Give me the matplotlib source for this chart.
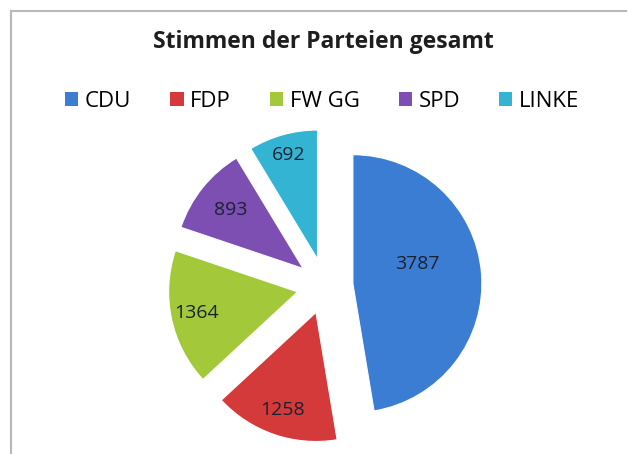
import numpy as np
import matplotlib
matplotlib.use("Agg")
import matplotlib.pyplot as plt
from matplotlib.patches import Patch
from matplotlib.lines import Line2D

# Daten
parteien = ["CDU", "FDP", "FW GG", "SPD", "LINKE"]
stimmen = [3787, 1258, 1364, 893, 692]
farben = ["#3c7dd4", "#d43a3a", "#a3c93a", "#7d4fb2", "#33b4d2"]
titel = "Stimmen der Parteien gesamt"

W, H = 628, 454
fig = plt.figure(figsize=(W / 100, H / 100), dpi=100)
fig.patch.set_facecolor("white")

# Achse ueber die ganze Figur, Kreis mit Radius 1 = 129 px, Mitte bei (325, 286)
scale = 129.0
cx, cy = 325, 286
ax = fig.add_axes([0, 0, 1, 1])

explode = [0.217] * len(stimmen)
wedges, _ = ax.pie(stimmen, colors=farben, startangle=90, counterclock=False,
                   explode=explode, radius=1.0,
                   wedgeprops=dict(linewidth=0.8, edgecolor="#ffffff"))
ax.set_xlim(-cx / scale, (W - cx) / scale)
ax.set_ylim(-(H - cy) / scale, cy / scale)
ax.axis("off")

# Werte in die Segmente schreiben
label_dist = [0.52, 0.8, 0.8, 0.72, 0.84]
label_shift = [12, 0, 0, 0, 0]   # Winkelversatz in Grad
for w, val, d, s in zip(wedges, stimmen, label_dist, label_shift):
    ang = np.deg2rad((w.theta1 + w.theta2) / 2 + s)
    x = w.center[0] + d * w.r * np.cos(ang)
    y = w.center[1] + d * w.r * np.sin(ang)
    ax.text(x, y, str(val), ha="center", va="center", fontsize=14,
            color="#1a2230", family="Open Sans")

# Titel
fig.text(0.515, 1 - 42 / H, titel, ha="center", va="center",
         fontsize=16.5, fontweight="bold", color="#1e1e1e", family="Open Sans")

# Legende
handles = [Patch(facecolor=c, edgecolor="none") for c in farben]
fig.legend(handles, parteien, loc="center", bbox_to_anchor=(0.513, 1 - 101 / H),
           ncol=5, frameon=False, prop={"family": "Open Sans", "size": 16},
           handlelength=0.6, handleheight=0.6, handletextpad=0.3,
           columnspacing=1.75)

# Rahmen
fig.add_artist(Line2D([11 / W, 11 / W], [0, 1 - 11 / H], color="#b8b8b8", lw=1.5))
fig.add_artist(Line2D([11 / W, 626 / W], [1 - 11 / H, 1 - 11 / H], color="#b8b8b8", lw=1.5))

fig.savefig("out.png", dpi=100)
